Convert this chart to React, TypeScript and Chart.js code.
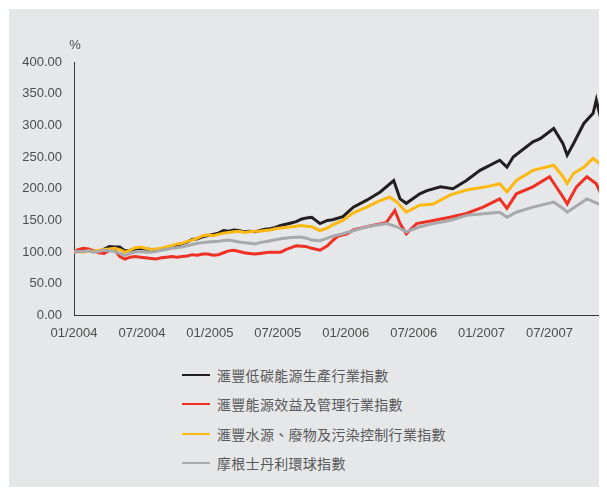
import React, { useEffect, useRef } from "react";
import { Chart, registerables } from "chart.js";

Chart.register(...registerables);

// Month index since 01/2004 for x tick positions, and their labels
const tickMonths = [0, 6, 12, 18, 24, 30, 36, 42];
const tickLabels = ["01/2004", "07/2004", "01/2005", "07/2005", "01/2006", "07/2006", "01/2007", "07/2007"];

const seriesNames = [
  "滙豐低碳能源生產行業指數",
  "滙豐能源效益及管理行業指數",
  "滙豐水源、廢物及污染控制行業指數",
  "摩根士丹利環球指數",
];
const seriesColors = ["#231f20", "#ee3124", "#fdb913", "#a7a9ac"];

// Black: low-carbon energy production
const blackMonths = [0, 0.37, 0.83, 1.29, 1.74, 2.2, 2.66, 3.12, 3.58, 4.04, 4.5, 4.95, 5.41, 5.87, 6.33, 6.79, 7.25, 7.7, 8.16, 8.62, 9.08, 9.54, 10.0, 10.45, 10.91, 11.37, 11.83, 12.29, 12.75, 13.21, 13.66, 14.12, 14.58, 15.04, 15.5, 15.96, 16.42, 16.87, 17.33, 17.79, 18.25, 18.71, 19.17, 19.63, 20.08, 20.54, 21.0, 21.73, 22.38, 22.84, 23.75, 24.67, 25.86, 27.05, 28.24, 28.8, 29.35, 30.54, 31.18, 32.37, 33.47, 34.66, 35.86, 37.6, 38.24, 38.79, 40.53, 41.18, 42.37, 43.19, 43.56, 44.11, 45.03, 45.85, 46.13, 46.59, 46.9];
const blackValues = [100, 102, 104, 103, 102, 100, 105, 109, 108, 108, 102, 103, 105, 106, 105, 104, 103, 105, 107, 108, 111, 113, 116, 120, 121, 124, 126, 128, 130, 134, 133, 135, 134, 132, 133, 132, 134, 136, 137, 139, 142, 144, 146, 148, 152, 154, 155, 145, 150, 151, 156, 171, 182, 195, 213, 184, 177, 192, 197, 203, 200, 213, 229, 245, 234, 250, 274, 279, 295, 271, 253, 271, 303, 319, 340, 306, 321];

// Red: energy efficiency & management
const redMonths = [0, 0.37, 0.83, 1.29, 1.74, 2.2, 2.66, 3.12, 3.58, 4.04, 4.5, 4.95, 5.41, 5.87, 6.33, 6.79, 7.25, 7.7, 8.16, 8.62, 9.08, 9.54, 10.0, 10.45, 10.91, 11.37, 11.83, 12.29, 12.75, 13.21, 13.66, 14.12, 14.58, 15.04, 15.5, 15.96, 16.42, 16.87, 17.33, 17.79, 18.25, 18.71, 19.17, 19.63, 20.45, 21.0, 21.73, 22.38, 22.84, 23.29, 24.12, 24.67, 25.86, 27.6, 28.34, 28.8, 29.35, 30.26, 31.73, 33.2, 34.66, 36.13, 37.6, 38.24, 39.07, 40.53, 42.0, 43.19, 43.56, 44.38, 45.3, 46.13, 46.59, 46.9];
const redValues = [100, 104, 106, 105, 102, 99, 98, 103, 104, 93, 89, 92, 93, 92, 91, 90, 89, 91, 92, 93, 92, 93, 94, 96, 95, 97, 97, 95, 96, 99, 102, 103, 101, 99, 98, 97, 98, 99, 100, 100, 100, 104, 107, 110, 109, 106, 103, 110, 118, 125, 129, 135, 140, 147, 166, 145, 129, 145, 150, 155, 161, 171, 184, 169, 192, 203, 219, 187, 176, 203, 219, 208, 190, 200];

// Yellow: water, waste & pollution control
const yellowMonths = [0, 0.37, 0.83, 1.29, 1.74, 2.2, 2.66, 3.12, 3.58, 4.04, 4.5, 4.95, 5.41, 5.87, 6.33, 6.79, 7.25, 7.7, 8.16, 8.62, 9.08, 9.54, 10.0, 10.45, 10.91, 11.37, 11.83, 12.29, 12.75, 13.21, 13.66, 14.12, 14.58, 15.04, 15.5, 15.96, 16.42, 16.87, 17.33, 17.79, 18.25, 18.71, 19.17, 19.63, 20.0, 20.54, 21.0, 21.73, 22.38, 22.84, 23.75, 24.67, 25.86, 26.87, 27.88, 28.52, 29.35, 30.54, 31.73, 33.2, 34.66, 36.41, 37.6, 38.24, 39.07, 40.53, 42.37, 43.19, 43.56, 44.11, 45.03, 45.85, 46.59, 46.9];
const yellowValues = [100, 101, 100, 102, 101, 103, 104, 105, 106, 104, 100, 103, 107, 108, 106, 104, 105, 106, 108, 110, 113, 114, 117, 119, 122, 126, 127, 126, 128, 130, 131, 132, 133, 131, 132, 133, 133, 134, 135, 137, 138, 139, 140, 141, 142, 141, 140, 134, 138, 143, 150, 162, 171, 180, 187, 179, 163, 174, 176, 190, 198, 203, 208, 195, 213, 229, 237, 219, 208, 224, 234, 248, 237, 245];

// Gray: MSCI World
const grayMonths = [0, 0.37, 0.83, 1.29, 1.74, 2.2, 2.66, 3.12, 3.58, 4.04, 4.5, 4.95, 5.41, 5.87, 6.33, 6.79, 7.25, 7.7, 8.16, 8.62, 9.08, 9.54, 10.0, 10.45, 10.91, 11.37, 11.83, 12.75, 13.66, 14.58, 15.5, 15.96, 16.42, 17.33, 18.25, 19.17, 20.0, 20.54, 21.0, 21.73, 22.38, 22.84, 23.75, 25.86, 27.6, 28.52, 29.35, 30.54, 31.73, 33.2, 34.66, 36.41, 37.6, 38.24, 39.07, 40.53, 42.37, 43.19, 43.56, 45.3, 46.59, 46.9];
const grayValues = [100, 101, 101, 102, 100, 101, 103, 102, 101, 98, 95, 98, 100, 101, 100, 100, 101, 103, 104, 106, 107, 108, 110, 112, 114, 115, 116, 117, 119, 116, 114, 113, 115, 118, 121, 123, 124, 122, 119, 118, 122, 125, 129, 140, 145, 140, 132, 140, 145, 150, 158, 161, 163, 155, 163, 171, 179, 169, 163, 184, 174, 179];

const allMonths = [blackMonths, redMonths, yellowMonths, grayMonths];
const allValues = [blackValues, redValues, yellowValues, grayValues];

const X_MAX = 46.9;
const FONT = "'Liberation Sans', Arial, sans-serif";

export default function App() {
  const canvasRef = useRef<HTMLCanvasElement | null>(null);

  useEffect(() => {
    const ctx = canvasRef.current;
    if (!ctx) return;
    const datasets = seriesNames.map((name, i) => ({
      label: name,
      data: allMonths[i].map((m, j) => ({ x: m, y: allValues[i][j] })),
      borderColor: seriesColors[i],
      backgroundColor: seriesColors[i],
      borderWidth: 3,
      pointRadius: 0,
      tension: 0,
      fill: false,
      order: 3 - i,
    }));
    const chart = new Chart(ctx, {
      type: "line",
      data: { datasets },
      options: {
        animation: false,
        responsive: false,
        layout: { padding: { left: 13, top: 53, right: 2, bottom: 5.5 } },
        plugins: { legend: { display: false }, tooltip: { enabled: false } },
        scales: {
          x: {
            type: "linear",
            min: 0,
            max: X_MAX,
            grid: { display: false, drawTicks: false },
            border: { display: true, color: "#3a3a3a", width: 1 },
            ticks: {
              padding: 10,
              color: "#4d4d4d",
              font: { family: FONT, size: 13 },
              maxRotation: 0,
              autoSkip: false,
              callback: (v: any) => {
                const idx = tickMonths.indexOf(Number(v));
                return idx >= 0 ? tickLabels[idx] : "";
              },
            },
            afterBuildTicks: (s: any) => {
              s.ticks = tickMonths.map((v) => ({ value: v }));
            },
            afterFit: (s: any) => {
              s.height = 28;
            },
          },
          y: {
            min: 0,
            max: 400,
            grid: { display: false, drawTicks: false },
            border: { display: true, color: "#3a3a3a", width: 1 },
            ticks: {
              stepSize: 50,
              padding: 12,
              color: "#4d4d4d",
              font: { family: FONT, size: 13 },
              callback: (v: any) => Number(v).toFixed(2),
            },
            afterFit: (s: any) => {
              s.width = 52;
            },
          },
        },
      },
    });
    return () => chart.destroy();
  }, []);

  return (
    <div
      style={{
        position: "relative",
        left: 1,
        top: 1,
        width: 598,
        height: 479,
        background: "#e6e7e8",
        overflow: "hidden",
      }}
    >
      <canvas
        ref={canvasRef}
        width={598}
        height={340}
        style={{ position: "absolute", left: 0, top: 0, width: 598, height: 340 }}
      />
      <div
        style={{
          position: "absolute",
          left: 58,
          top: 28,
          width: 16,
          textAlign: "center",
          lineHeight: "16px",
          fontFamily: FONT,
          fontSize: 13,
          color: "#4d4d4d",
        }}
      >
        %
      </div>
      <div style={{ position: "absolute", left: 173, top: 351.4 }}>
        {seriesNames.map((name, i) => (
          <div
            key={name}
            style={{ display: "flex", alignItems: "center", height: 29.3 }}
          >
            <div style={{ width: 28, height: 2, background: seriesColors[i], marginRight: 7 }} />
            <span
              style={{
                fontFamily: "'Noto Sans CJK TC', 'Noto Sans CJK SC', sans-serif",
                fontSize: 14,
                letterSpacing: 0.3,
                color: "#58595b",
                lineHeight: "16px",
              }}
            >
              {name}
            </span>
          </div>
        ))}
      </div>
    </div>
  );
}
